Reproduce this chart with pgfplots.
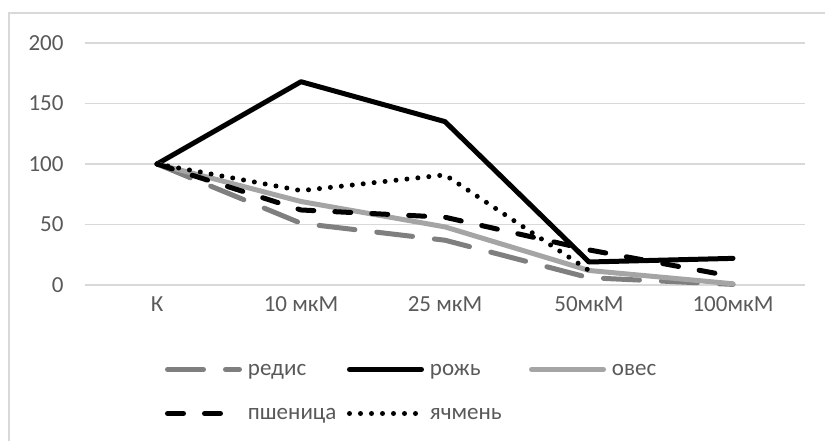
\documentclass[border=0pt]{standalone}
\usepackage{fontspec}
\setmainfont{Carlito}
\usepackage{pgfplots}
\pgfplotsset{compat=1.18}
\definecolor{txt}{HTML}{595959}
\definecolor{gridc}{HTML}{D9D9D9}
\definecolor{redis}{HTML}{7F7F7F}
\definecolor{oves}{HTML}{A5A5A5}
\newcommand{\lf}{\fontsize{23bp}{27bp}\selectfont}
\begin{document}
\begin{tikzpicture}[x=1bp,y=1bp]
\path[use as bounding box] (0,0) rectangle (825,441);
\draw[gridc, line width=1.4bp] (9,-5) -- (9,428) -- (830,428);
\begin{axis}[
  at={(85bp,156bp)}, anchor=south west,
  width=720bp, height=242bp, scale only axis,
  xmin=-0.5, xmax=4.5, ymin=0, ymax=200,
  xtick={0,1,2,3,4},
  xticklabels={К,10 мкМ,25 мкМ,50мкМ,100мкМ},
  ytick={0,50,100,150,200},
  axis line style={draw=none},
  major tick length=0pt,
  ymajorgrids, grid style={gridc, line width=1.4bp},
  /pgf/number format/assume math mode=true,
  tick label style={font=\lf, text=txt},
  yticklabel style={xshift=-18bp},
  xticklabel style={yshift=-8bp},
  clip=false,
  legend cell align=left,
  legend image code/.code={\draw[#1] (0bp,0bp) -- (72bp,0bp);},
  legend style={at={(rel axis cs:0.1111,-0.3017)}, anchor=north west,
    draw=none, fill=none, inner sep=0pt, outer sep=0pt,
    legend columns=3, row sep=21bp,
    nodes={inner sep=0pt, text height=17bp, text depth=6bp, font=\lf, text=txt},
    /tikz/every odd column/.append style={column sep=6bp}},
  every axis plot/.append style={line width=5bp, line cap=round, line join=round},
]
\addplot[redis, dash pattern=on 36bp off 22bp] coordinates {(0,100) (1,51) (2,37) (3,6) (4,0.5)};
\addlegendentry{\makebox[99bp][l]{редис}}
\addplot[black] coordinates {(0,100) (1,168) (2,135) (3,19) (4,22)};
\addlegendentry{\makebox[99bp][l]{рожь}}
\addplot[oves] coordinates {(0,100) (1,69) (2,48) (3,12) (4,1)};
\addlegendentry{\makebox[99bp][l]{овес}}
\addplot[black, dash pattern=on 16bp off 21bp] coordinates {(0,100) (1,62) (2,56) (3,29) (4,7)};
\addlegendentry{\makebox[99bp][l]{пшеница}}
\addplot[black, dash pattern=on 0bp off 11bp] coordinates {(0,100) (1,78) (2,91) (3,12)};
\addlegendentry{\makebox[99bp][l]{ячмень}}
\end{axis}
\end{tikzpicture}
\end{document}
